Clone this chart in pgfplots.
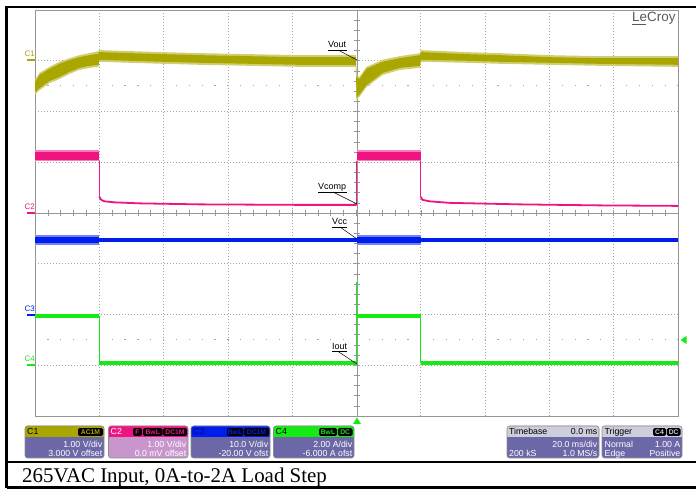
\documentclass[border=0pt]{standalone}
\usepackage{fontspec}
\setmainfont{Liberation Sans}
\newfontfamily\capfont{Liberation Serif}
\usepackage{pgfplots}
\pgfplotsset{compat=1.18}
\definecolor{cone}{RGB}{170,166,0}
\definecolor{ctwo}{RGB}{240,20,130}
\definecolor{cthree}{RGB}{0,30,235}
\definecolor{cfour}{RGB}{20,235,20}
\definecolor{boxbody}{RGB}{108,104,168}
\definecolor{boxbodytwo}{RGB}{200,150,205}
\definecolor{boxhead}{RGB}{205,205,220}
\definecolor{gridc}{RGB}{165,165,165}
\definecolor{framec}{RGB}{150,150,150}
\newcommand{\bodyfont}{\fontsize{8.8}{9}\selectfont}
\newcommand{\badgefont}{\fontsize{6.8}{7}\selectfont\bfseries}
\newcommand{\badge}[4]{\fill[black,rounded corners=1.5bp] (#1,428.2) rectangle (#2,436); \node[text=#3,font=\badgefont,inner sep=0pt] at ({(#1+#2)/2},432.2) {#4};}
\begin{document}
\begin{tikzpicture}
\begin{scope}[x=1bp,y=-1bp,yshift=489bp]
 \draw[line width=2.5bp] (5.25,7) -- (696,7);
 \draw[line width=2.5bp] (6.5,5.75) -- (6.5,488.5);
 \draw[line width=2.5bp] (6.5,462) -- (696,462);
 \draw[line width=2.5bp] (6.5,487.3) -- (696,487.3);
 \draw[framec,line width=0.7bp] (357,10) -- (357,416);
 \draw[framec,line width=0.7bp] (35,213) -- (678,213);
 \foreach \k in {1,...,49} {\draw[framec,line width=0.6bp] ({35+\k*12.86},210) -- ({35+\k*12.86},216);}
 \foreach \k in {1,...,39} {\draw[framec,line width=0.6bp] (354,{10+\k*10.15}) -- (360,{10+\k*10.15});}
 \draw[gridc,line width=1bp,dash pattern=on 1.2bp off 11.66bp] (47.3,86) -- (678,86);
 \draw[gridc,line width=1bp,dash pattern=on 1.2bp off 11.66bp] (47.3,340) -- (678,340);
\end{scope}
\begin{axis}[at={(35bp,73bp)},anchor=south west,scale only axis,width=643bp,height=406bp,
 xmin=-100,xmax=100,ymin=-4,ymax=4,
 xtick={-80,-60,-40,-20,20,40,60,80}, ytick={-3,-2,-1,1,2,3},
 xticklabels={},yticklabels={}, major tick length=0pt,
 grid=major, major grid style={gridc,line width=0.7bp,dash pattern=on 1bp off 2bp},
 axis line style={framec,line width=0.8bp}]
% C1 Vout: outer noise envelope
\addplot[draw=none,fill=cone!55!white] coordinates {
(-100,2.62) (-98.6,2.76) (-95.5,2.88) (-92.4,2.98) (-89.3,3.05) (-86.2,3.11) (-83.0,3.15) (-80.2,3.19)
(-80,3.21) (-70.6,3.19) (-60.3,3.17) (-48.8,3.15) (-33.3,3.13) (-17.7,3.11) (-0.2,3.11)
(0,2.72) (0.9,2.68) (3.1,2.88) (8.1,3.02) (13.4,3.09) (19.8,3.15)
(20,3.21) (34.2,3.17) (44.5,3.15) (60,3.11) (75.6,3.09) (100,3.09)
(100,2.88) (75.6,2.90) (60,2.92) (44.5,2.94) (34.2,2.96) (20,2.98)
(19.8,2.86) (13.4,2.82) (8.1,2.72) (3.1,2.48) (0.9,2.29) (0,2.23)
(-0.2,2.88) (-17.7,2.88) (-33.3,2.90) (-48.8,2.92) (-60.3,2.94) (-70.6,2.96) (-80,2.98)
(-80.2,2.88) (-83.0,2.86) (-86.2,2.82) (-89.3,2.74) (-92.4,2.64) (-95.5,2.56) (-98.6,2.42) (-100,2.33)
} -- cycle;
% C1 Vout: core band
\addplot[draw=none,fill=cone] coordinates {
(-100,2.58) (-98.6,2.72) (-95.5,2.84) (-92.4,2.94) (-89.3,3.01) (-86.2,3.07) (-83.0,3.11) (-80.2,3.14)
(-80,3.17) (-70.6,3.15) (-60.3,3.13) (-48.8,3.11) (-33.3,3.09) (-17.7,3.07) (-0.2,3.07)
(0,2.68) (0.9,2.64) (3.1,2.84) (8.1,2.98) (13.4,3.05) (19.8,3.11)
(20,3.17) (34.2,3.13) (44.5,3.11) (60,3.07) (75.6,3.05) (100,3.05)
(100,2.92) (75.6,2.94) (60,2.96) (44.5,2.98) (34.2,3.00) (20,3.02)
(19.8,2.90) (13.4,2.86) (8.1,2.76) (3.1,2.52) (0.9,2.33) (0,2.27)
(-0.2,2.92) (-17.7,2.92) (-33.3,2.94) (-48.8,2.96) (-60.3,2.98) (-70.6,3.00) (-80,3.02)
(-80.2,2.92) (-83.0,2.90) (-86.2,2.86) (-89.3,2.78) (-92.4,2.68) (-95.5,2.60) (-98.6,2.46) (-100,2.37)
} -- cycle;
% C2 Vcomp
\addplot[draw=none,fill=ctwo!55!white] coordinates {(-100,1.25) (-80,1.25) (-80,1.02) (-100,1.02)} -- cycle;
\addplot[draw=none,fill=ctwo!55!white] coordinates {(0,1.25) (20,1.25) (20,1.02) (0,1.02)} -- cycle;
\addplot[draw=none,fill=ctwo] coordinates {(-100,1.21) (-80,1.21) (-80,1.05) (-100,1.05)} -- cycle;
\addplot[draw=none,fill=ctwo] coordinates {(0,1.21) (20,1.21) (20,1.05) (0,1.05)} -- cycle;
\addplot[ctwo,line width=1.8bp] coordinates {(-80,0.32) (-79.4,0.26) (-78.4,0.23) (-75.3,0.21) (-67.5,0.19) (-48.8,0.17) (-17.7,0.16) (0,0.16)};
\addplot[ctwo,line width=1.8bp] coordinates {(20,0.32) (20.5,0.26) (22.7,0.23) (28.9,0.20) (50.7,0.17) (75.6,0.15) (100,0.14)};
\addplot[ctwo,line width=0.8bp] coordinates {(-80,1.02) (-80,0.32)};
\addplot[ctwo,line width=0.8bp] coordinates {(0,0.16) (0,1.02)};
\addplot[ctwo,line width=0.8bp] coordinates {(20,1.02) (20,0.32)};
% C3 Vcc
\addplot[cthree,line width=4bp] coordinates {(-100,-0.53) (100,-0.53)};
\addplot[draw=none,fill=cthree!55!white] coordinates {(-100,-0.44) (-80,-0.44) (-80,-0.64) (-100,-0.64)} -- cycle;
\addplot[draw=none,fill=cthree!55!white] coordinates {(0,-0.44) (20,-0.44) (20,-0.64) (0,-0.64)} -- cycle;
\addplot[draw=none,fill=cthree] coordinates {(-100,-0.47) (-80,-0.47) (-80,-0.60) (-100,-0.60)} -- cycle;
\addplot[draw=none,fill=cthree] coordinates {(0,-0.47) (20,-0.47) (20,-0.60) (0,-0.60)} -- cycle;
% C4 Iout
\addplot[cfour,line width=4.5bp] coordinates {(-100,-2.03) (-80,-2.03)};
\addplot[cfour,line width=4.5bp] coordinates {(-80,-2.96) (0,-2.96)};
\addplot[cfour,line width=4.5bp] coordinates {(0,-2.03) (20,-2.03)};
\addplot[cfour,line width=4.5bp] coordinates {(20,-2.96) (100,-2.96)};
\addplot[cfour,line width=0.8bp] coordinates {(-80,-2.03) (-80,-2.96)};
\addplot[cfour,line width=0.8bp] coordinates {(0,-2.96) (0,-1.36)};
\addplot[cfour,line width=0.8bp] coordinates {(20,-2.03) (20,-2.96)};
\end{axis}
\begin{scope}[x=1bp,y=-1bp,yshift=489bp]
 \node[anchor=base west,font=\fontsize{8}{8}\selectfont,text=cone,inner sep=0pt] at (24.5,57) {C1};
 \draw[cone,line width=2bp] (27,60) -- (35,60);
 \node[anchor=base west,font=\fontsize{8}{8}\selectfont,text=ctwo,inner sep=0pt] at (24.5,210) {C2};
 \draw[ctwo,line width=2bp] (27,213) -- (35,213);
 \node[anchor=base west,font=\fontsize{8}{8}\selectfont,text=cthree,inner sep=0pt] at (24.5,312) {C3};
 \draw[cthree,line width=2bp] (27,315) -- (35,315);
 \node[anchor=base west,font=\fontsize{8}{8}\selectfont,text=cfour,inner sep=0pt] at (24.5,362) {C4};
 \draw[cfour,line width=2bp] (27,365) -- (35,365);
 \node[anchor=base west,font=\fontsize{9}{9}\selectfont,inner sep=0pt] at (328,48) {Vout};
 \draw[line width=0.5bp] (328,50) -- (347,50); \draw[line width=0.5bp] (338,50) -- (357,60);
 \node[anchor=base west,font=\fontsize{9}{9}\selectfont,inner sep=0pt] at (318,190) {Vcomp};
 \draw[line width=0.5bp] (318,192) -- (347,192); \draw[line width=0.5bp] (333,192) -- (357,204);
 \node[anchor=base west,font=\fontsize{9}{9}\selectfont,inner sep=0pt] at (332,225) {Vcc};
 \draw[line width=0.5bp] (332,227) -- (347,227); \draw[line width=0.5bp] (340,227) -- (357,239);
 \node[anchor=base west,font=\fontsize{9}{9}\selectfont,inner sep=0pt] at (332,349.5) {Iout};
 \draw[line width=0.5bp] (332,351.5) -- (347,351.5); \draw[line width=0.5bp] (338,351.5) -- (357,364);
 \node[anchor=base west,font=\fontsize{13.5}{13}\selectfont,text=black!65,inner sep=0pt] at (632,22) {LeCroy};
 \draw[black!65,line width=0.8bp] (632,24.5) -- (646,24.5);
 \fill[cfour] (353,424) -- (361,424) -- (357,417.5) -- cycle;
 \fill[cfour] (680.5,340) -- (686.5,336) -- (686.5,344) -- cycle;
 % C1 box
 \fill[boxbody,rounded corners=2.5bp] (25,426) rectangle (104,458);
 \fill[cone,rounded corners=2.5bp] (25,426) rectangle (104,437);
 \fill[cone] (25,432) rectangle (104,437);
 \draw[black!45,line width=0.6bp,rounded corners=2.5bp] (25,426) rectangle (104,458);
 \node[anchor=base west,font=\bodyfont,inner sep=0pt,text=black] at (27,435) {C1};
 \badge{78}{103}{cone}{AC1M}
 \node[anchor=base east,font=\bodyfont,inner sep=0pt,text=white] at (102.5,447.5) {1.00 V/div};
 \node[anchor=base east,font=\bodyfont,inner sep=0pt,text=white] at (102.5,456.5) {3.000 V offset};
 % C2 box
 \fill[boxbodytwo,rounded corners=2.5bp] (108.5,426) rectangle (188,458);
 \fill[ctwo,rounded corners=2.5bp] (108.5,426) rectangle (188,437);
 \fill[ctwo] (108.5,432) rectangle (188,437);
 \draw[black!45,line width=0.6bp,rounded corners=2.5bp] (108.5,426) rectangle (188,458);
 \node[anchor=base west,font=\bodyfont,inner sep=0pt,text=white] at (110.5,435) {C2};
 \badge{133}{142}{ctwo}{F}
 \badge{143}{162.5}{ctwo}{BwL}
 \badge{163}{187}{ctwo}{DC1M}
 \node[anchor=base east,font=\bodyfont,inner sep=0pt,text=white] at (186.5,447.5) {1.00 V/div};
 \node[anchor=base east,font=\bodyfont,inner sep=0pt,text=white] at (186.5,456.5) {0.0 mV offset};
 % C3 box
 \fill[boxbody,rounded corners=2.5bp] (191,426) rectangle (270,458);
 \fill[cthree,rounded corners=2.5bp] (191,426) rectangle (270,437);
 \fill[cthree] (191,432) rectangle (270,437);
 \draw[black!45,line width=0.6bp,rounded corners=2.5bp] (191,426) rectangle (270,458);
 \node[anchor=base west,font=\bodyfont,inner sep=0pt,text={rgb,255:red,0;green,0;blue,140}] at (193,435) {C3};
 \badge{227}{243}{cthree}{BwL}
 \badge{244}{269}{cthree}{DC1M}
 \node[anchor=base east,font=\bodyfont,inner sep=0pt,text=white] at (268.5,447.5) {10.0 V/div};
 \node[anchor=base east,font=\bodyfont,inner sep=0pt,text=white] at (268.5,456.5) {-20.00 V ofst};
 % C4 box
 \fill[boxbody,rounded corners=2.5bp] (273.5,426) rectangle (354,458);
 \fill[cfour,rounded corners=2.5bp] (273.5,426) rectangle (354,437);
 \fill[cfour] (273.5,432) rectangle (354,437);
 \draw[black!45,line width=0.6bp,rounded corners=2.5bp] (273.5,426) rectangle (354,458);
 \node[anchor=base west,font=\bodyfont,inner sep=0pt,text=black] at (275.5,435) {C4};
 \badge{319}{337}{cfour}{BwL}
 \badge{338}{352.5}{cfour}{DC}
 \node[anchor=base east,font=\bodyfont,inner sep=0pt,text=white] at (352.5,447.5) {2.00 A/div};
 \node[anchor=base east,font=\bodyfont,inner sep=0pt,text=white] at (352.5,456.5) {-6.000 A ofst};
 % Timebase box
 \fill[boxbody,rounded corners=2.5bp] (507,426) rectangle (599,458);
 \fill[boxhead,rounded corners=2.5bp] (507,426) rectangle (599,437);
 \fill[boxhead] (507,432) rectangle (599,437);
 \draw[black!45,line width=0.6bp,rounded corners=2.5bp] (507,426) rectangle (599,458);
 \node[anchor=base west,font=\bodyfont,inner sep=0pt,text=black] at (509,435) {Timebase};
 \node[anchor=base east,font=\bodyfont,inner sep=0pt,text=black] at (597.5,435) {0.0 ms};
 \node[anchor=base east,font=\bodyfont,inner sep=0pt,text=white] at (597.5,447.5) {20.0 ms/div};
 \node[anchor=base west,font=\bodyfont,inner sep=0pt,text=white] at (509,456.5) {200 kS};
 \node[anchor=base east,font=\bodyfont,inner sep=0pt,text=white] at (597.5,456.5) {1.0 MS/s};
 % Trigger box
 \fill[boxbody,rounded corners=2.5bp] (602,426) rectangle (682,458);
 \fill[boxhead,rounded corners=2.5bp] (602,426) rectangle (682,437);
 \fill[boxhead] (602,432) rectangle (682,437);
 \draw[black!45,line width=0.6bp,rounded corners=2.5bp] (602,426) rectangle (682,458);
 \node[anchor=base west,font=\bodyfont,inner sep=0pt,text=black] at (604.5,435) {Trigger};
 \badge{653}{666}{boxhead}{C4}
 \badge{666.8}{680.5}{boxhead}{DC}
 \node[anchor=base west,font=\bodyfont,inner sep=0pt,text=white] at (604.5,447.5) {Normal};
 \node[anchor=base east,font=\bodyfont,inner sep=0pt,text=white] at (680.5,447.5) {1.00 A};
 \node[anchor=base west,font=\bodyfont,inner sep=0pt,text=white] at (604.5,456.5) {Edge};
 \node[anchor=base east,font=\bodyfont,inner sep=0pt,text=white] at (680.5,456.5) {Positive};
 \node[anchor=base west,font=\capfont\fontsize{21}{21}\selectfont,inner sep=0pt] at (22,483) {265VAC Input, 0A-to-2A Load Step};
\end{scope}
\pgfresetboundingbox
\path[use as bounding box] (0,0) rectangle (696bp,489bp);
\end{tikzpicture}
\end{document}
